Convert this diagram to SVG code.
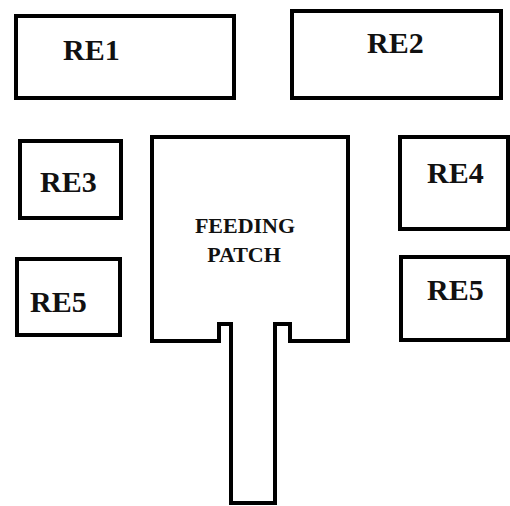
<svg xmlns="http://www.w3.org/2000/svg" width="510" height="506" viewBox="0 0 510 506">
<style>
.box{fill:#fff;stroke:#000;stroke-width:4}
.lbl{font-family:"Liberation Serif","Times New Roman",serif;font-weight:bold;font-size:30px;fill:#111}
.fp{font-family:"Liberation Serif","Times New Roman",serif;font-weight:bold;font-size:22px;fill:#111;text-anchor:middle}
</style>
<rect width="510" height="506" fill="#fff"/>
<g id="re1"><rect class="box" x="16" y="16" width="218" height="82"/><text class="lbl" x="63" y="60">RE1</text></g>
<g id="re2"><rect class="box" x="292" y="11" width="209" height="87"/><text class="lbl" x="367" y="53">RE2</text></g>
<g id="re3"><rect class="box" x="20" y="141" width="101" height="77"/><text class="lbl" x="40" y="192">RE3</text></g>
<g id="re5a"><rect class="box" x="17" y="259" width="103" height="76"/><text class="lbl" x="30" y="312">RE5</text></g>
<g id="re4"><rect class="box" x="400" y="137" width="108" height="92"/><text class="lbl" x="427" y="183">RE4</text></g>
<g id="re5b"><rect class="box" x="401" y="257" width="107" height="83"/><text class="lbl" x="427" y="300">RE5</text></g>
<g id="feeding-patch">
<path class="box" d="M152,137 H348 V341 H290 V324 H275 V503 H231 V324 H219 V341 H152 Z"/>
<text class="fp" x="245" y="233">FEEDING</text>
<text class="fp" x="244" y="262">PATCH</text>
</g>
<g id="connectors"></g>
</svg>
